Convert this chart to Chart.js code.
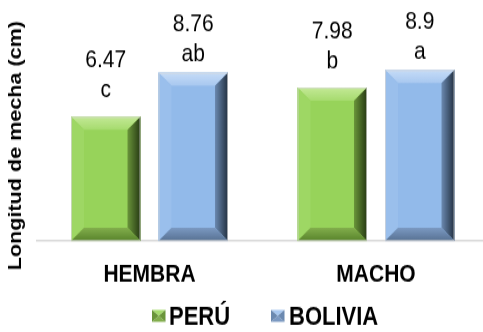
<!DOCTYPE html>
<html><head><meta charset="utf-8">
<script src="https://cdn.jsdelivr.net/npm/chart.js@4.4.1/dist/chart.umd.min.js"></script>
<style>
html,body{margin:0;padding:0;background:#fff;overflow:hidden;width:483px;height:332px}
#wrap{position:absolute;left:0;top:0;width:490px;height:277px;transform:scaleY(1.19856);transform-origin:0 0}
</style></head><body>
<div id="wrap"><canvas id="c"></canvas></div>
<script>
// Fibre length by sex and origin
const categories = ['HEMBRA', 'MACHO'];
const seriesNames = ['PERÚ', 'BOLIVIA'];
const peruValues = [6.47, 7.98];
const boliviaValues = [8.76, 8.9];
const peruLetters = ['c', 'b'];
const boliviaLetters = ['ab', 'a'];
const yAxisTitle = 'Longitud de mecha (cm)';

const FONT = '"Liberation Sans", Arial, sans-serif';

// bevelled bar colours
const palettes = [
  { face: '#97D35A', top: ['#C3E996', '#A6DB6E'], left: '#9ED764',
    right: ['#6A953A', '#263913'], bottom: ['#82AE4C', '#58832B'], labelGap: [16.4, 41.4] },
  { face: '#92BAEA', top: ['#C6DCF7', '#A8C8F0'], left: '#9ABFEC',
    right: ['#6B89B0', '#223041'], bottom: ['#7B99C2', '#577192'], labelGap: [9.8, 34.8] }
];

function poly(ctx, pts, fill) {
  ctx.beginPath();
  ctx.moveTo(pts[0][0], pts[0][1]);
  for (let i = 1; i < pts.length; i++) ctx.lineTo(pts[i][0], pts[i][1]);
  ctx.closePath();
  ctx.fillStyle = fill;
  ctx.fill();
}

function drawBevel(ctx, L, T, R, B, p, dx, dy) {
  ctx.fillStyle = p.face;
  ctx.fillRect(L, T, R - L, B - T);
  let g = ctx.createLinearGradient(0, T, 0, T + dy);
  g.addColorStop(0, p.top[0]); g.addColorStop(1, p.top[1]);
  poly(ctx, [[L, T], [R, T], [R - dx, T + dy], [L + dx, T + dy]], g);
  poly(ctx, [[L, T], [L + dx, T + dy], [L + dx, B - dy], [L, B]], p.left);
  g = ctx.createLinearGradient(R - dx, 0, R, 0);
  g.addColorStop(0, p.right[0]); g.addColorStop(1, p.right[1]);
  poly(ctx, [[R, T], [R, B], [R - dx, B - dy], [R - dx, T + dy]], g);
  g = ctx.createLinearGradient(0, B - dy, 0, B);
  g.addColorStop(0, p.bottom[0]); g.addColorStop(1, p.bottom[1]);
  poly(ctx, [[L, B], [R, B], [R - dx, B - dy], [L + dx, B - dy]], g);
  ctx.strokeStyle = 'rgba(215,215,215,0.7)';
  ctx.lineWidth = 1;
  ctx.strokeRect(L + 0.5, T + 0.5, R - L - 1, B - T - 1);
}

function drawMarker(ctx, x, y, w, h, p) {
  const cx = x + w / 2, cy = y + h / 2;
  poly(ctx, [[x, y], [x + w, y], [cx, cy]], p.top[1]);
  poly(ctx, [[x, y + h], [x + w, y + h], [cx, cy]], p.bottom[0]);
  poly(ctx, [[x, y], [x, y + h], [cx, cy]], p.right[0]);
  poly(ctx, [[x + w, y], [x + w, y + h], [cx, cy]], p.right[0]);
}

const decorPlugin = {
  id: 'decor',
  afterDatasetsDraw(chart) {
    const ctx = chart.ctx;
    ctx.save();
    chart.data.datasets.forEach((ds, di) => {
      const meta = chart.getDatasetMeta(di);
      const p = palettes[di];
      meta.data.forEach((bar, i) => {
        const { x, y, base, width } = bar.getProps(['x', 'y', 'base', 'width'], true);
        drawBevel(ctx, x - width / 2, y, x + width / 2, base, p, 13, 11);
        ctx.fillStyle = '#000';
        ctx.font = '21px ' + FONT;
        ctx.textAlign = 'center';
        ctx.textBaseline = 'alphabetic';
        ctx.fillText(String(ds.data[i]), x, y - p.labelGap[1]);
        ctx.fillText(ds.letters[i], x, y - p.labelGap[0]);
      });
    });
    ctx.restore();
  },
  afterDraw(chart) {
    const ctx = chart.ctx;
    ctx.save();
    // vertical axis title
    ctx.translate(20.5, 121.5);
    ctx.rotate(-Math.PI / 2);
    ctx.fillStyle = '#000';
    ctx.font = 'bold 18px ' + FONT;
    ctx.textAlign = 'center';
    ctx.textBaseline = 'alphabetic';
    ctx.fillText(yAxisTitle, 0, 0);
    ctx.restore();

    // legend
    ctx.save();
    ctx.font = 'bold 22px ' + FONT;
    ctx.textAlign = 'left';
    ctx.textBaseline = 'alphabetic';
    const items = [[152, 169], [271, 289]];
    chart.data.datasets.forEach((ds, di) => {
      drawMarker(ctx, items[di][0], 258.6, 13.5, 10, palettes[di]);
      ctx.fillStyle = '#000';
      ctx.fillText(ds.label, items[di][1], 270.5);
    });
    ctx.restore();
  }
};

new Chart(document.getElementById('c'), {
  type: 'bar',
  data: {
    labels: categories,
    datasets: [
      { label: seriesNames[0], data: peruValues, letters: peruLetters,
        backgroundColor: palettes[0].face, borderWidth: 0 },
      { label: seriesNames[1], data: boliviaValues, letters: boliviaLetters,
        backgroundColor: palettes[1].face, borderWidth: 0 }
    ]
  },
  options: {
    responsive: true,
    maintainAspectRatio: false,
    animation: false,
    datasets: { bar: { categoryPercentage: 0.7726, barPercentage: 0.794 } },
    layout: { padding: { top: 8.65, left: 36.25, right: 0.75, bottom: 0 } },
    plugins: { legend: { display: false }, tooltip: { enabled: false } },
    scales: {
      x: {
        grid: { display: false, drawTicks: false },
        border: { display: true, color: '#D9D9D9', width: 1.5 },
        ticks: { color: '#000', padding: 16, font: { family: FONT, size: 21, weight: 'bold' } },
        afterFit(s) { s.height = 75.9; }
      },
      y: { display: false, min: 0, max: 12 }
    }
  },
  plugins: [decorPlugin]
});
</script>
</body></html>
